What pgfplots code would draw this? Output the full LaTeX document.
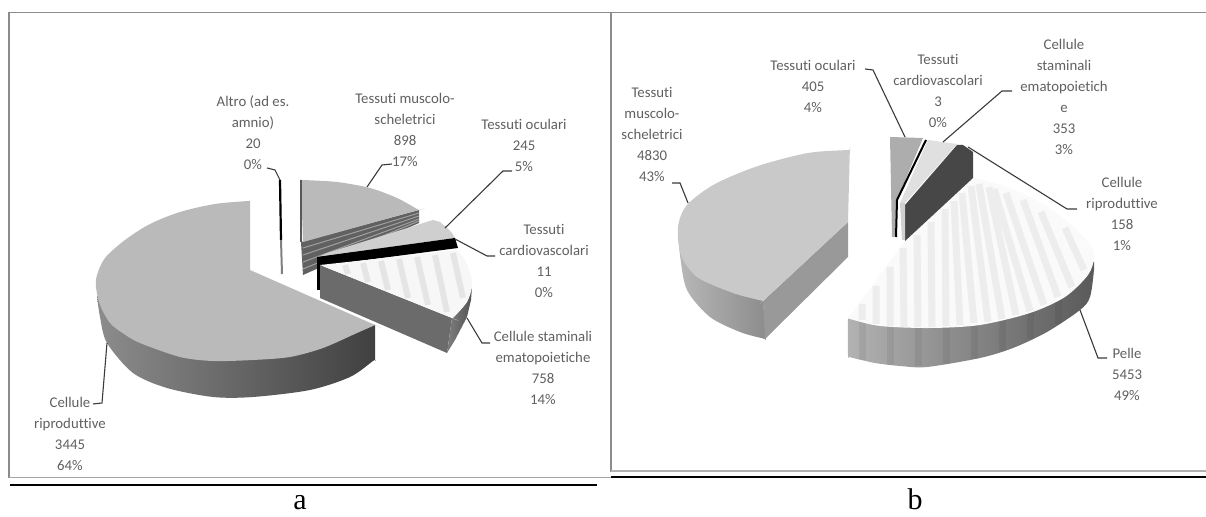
\documentclass[border=0pt]{standalone}
\usepackage{fontspec}
\setmainfont{Carlito}[Ligatures=NoCommon]
\newfontfamily\capfont{Liberation Serif}
\usepackage{pgfplots}
\pgfplotsset{compat=1.18}

\definecolor{txt}{HTML}{606060}
\definecolor{leader}{HTML}{3A3A3A}
\definecolor{framecol}{HTML}{8C8C8C}

\tikzset{
  lbl/.style={font=\fontsize{7.4}{10.5}\selectfont, text=txt, align=center, inner sep=0pt},
  ldr/.style={draw=leader, line width=0.55pt},
}

\begin{document}
\begin{tikzpicture}
\useasboundingbox (0,0) rectangle (603pt,258.5pt);
\begin{axis}[
    at={(0,0)}, anchor=south west,
    scale only axis, width=603pt, height=258.5pt,
    xmin=0, xmax=1206, ymin=0, ymax=517, y dir=reverse,
    hide axis, clip=false, unbounded coords=jump,
]
% frames and rules
\addplot[draw=framecol, line width=0.7pt] coordinates {(9,478) (9,12.5) (1206,12.5)};
\addplot[draw=framecol, line width=0.7pt] coordinates {(611,12.5) (611,472)};
\addplot[draw=gray!70, line width=0.9pt] coordinates {(9,477.5) (611,477.5)};
\addplot[draw=gray!60, line width=0.9pt] coordinates {(611,471) (1206,471)};
\addplot[draw=black, line width=1.1pt] coordinates {(10,485) (597,485)};
\addplot[draw=black, line width=1.1pt] coordinates {(611,477) (1206,477)};

% ---- chart a ----
% Altro
\addplot[draw=black, line width=1.1pt] coordinates {(280,180) (281,240)};
\addplot[draw=gray, line width=1pt] coordinates {(281,240) (282,274)};

% Tessuti muscolo-scheletrici
\addplot[fill=black!62, draw=none] coordinates {(301,242) (419,210) (419,223) (303,275)};
\addplot[draw=gray!75, line width=0.5pt] coordinates {(303,248) (419,213) (nan,nan) (303,255) (419,216) (nan,nan) (303,262) (419,219) (nan,nan) (303,269) (419,221)};
\addplot[smooth, fill=black!27, draw=none] coordinates {(303,242) (301,182) (301,180) (303,180) (337,182) (370,188) (397,198) (417,209) (419,210) (417,210.5) (303,242)};
\addplot[draw=black!65, line width=0.6pt] coordinates {(301,180) (301,242)};

% Cellule riproduttive
\addplot[smooth, left color=black!45, middle color=black!50, right color=black!75, draw=none] coordinates {(97,296) (100,317) (107,343) (133,373) (167,388) (213,397) (253,397) (310,390) (350,377) (373,361) (375,360) (375,358) (375,325)};
\addplot[smooth, fill=black!27, draw=none] coordinates {(250,270) (250,203) (250,201) (248,201) (215,204) (180,212) (150,224) (125,240) (105,258) (97,275) (96,287) (100,305) (110,323) (124,334) (140,343) (180,357) (213,361) (253,360) (290,357) (323,348) (357,333) (373,326) (375,325) (373,324.1) (250,270)};

% Tessuti oculari
\addplot[fill=black!19, draw=none] coordinates {(318,257) (327,253) (433,220) (440,222) (447,228) (452,233) (455,238)};

% Tessuti cardiovascolari
\addplot[fill=black, draw=none] coordinates {(317,257) (455,238) (458,248) (320,266) (320,290) (317,290)};

% Cellule staminali ematopoietiche
\addplot[fill=black!58, draw=none] coordinates {(320,265) (452,318) (447,353) (320,298)};
\addplot[left color=black!50, right color=black!68, draw=none] coordinates {(452,318) (467,302) (472,287) (471,300) (467,317) (455,340) (447,353)};
\addplot[smooth, fill=black!3, draw=none] coordinates {(320,265) (455,250.3) (457,250) (458,251) (465,260) (471,275) (472,287) (467,302) (454,317) (452,318) (450,317.2) (320,265)};
\addplot[draw=black!10, line width=3pt] coordinates {(345,265) (348,274) (nan,nan) (363,263) (368,282) (nan,nan) (381,261) (388,290) (nan,nan) (399,259) (408,298) (nan,nan) (417,257) (428,305) (nan,nan) (435,255) (447,312) (nan,nan) (453,253) (463,298)};

% leaders a
\addplot[ldr] coordinates {(267,168) (275,170) (280,180)};
\addplot[ldr] coordinates {(392,164) (382,165) (367,187)};
\addplot[ldr] coordinates {(512,171) (503,171) (445,228)};
\addplot[ldr] coordinates {(455,239) (487,256) (495,256)};
\addplot[ldr] coordinates {(467,318) (482,343) (490,343)};
\addplot[ldr] coordinates {(107,343) (102,403) (93,404)};

% labels a
\node[lbl] at (253,133) {Altro (ad es.\\amnio)\\20\\0\%};
\node[lbl] at (405,130) {Tessuti muscolo-\\scheletrici\\898\\17\%};
\node[lbl] at (524,145) {Tessuti oculari\\245\\5\%};
\node[lbl] at (544,261) {Tessuti\\cardiovascolari\\11\\0\%};
\node[lbl] at (543,368) {Cellule staminali\\ematopoietiche\\758\\14\%};
\node[lbl] at (70,434) {Cellule\\riproduttive\\3445\\64\%};
\node[font=\capfont\fontsize{15}{15}\selectfont, anchor=base, inner sep=0pt] at (300,510) {a};

% ---- chart b ----
% Tessuti muscolo-scheletrici
\addplot[smooth, left color=black!28, right color=black!45, draw=none] coordinates {(678,227) (680,255) (687,290) (710,317) (740,332) (763,338.5) (765,339) (766,337) (763,301)};
\addplot[fill=black!40, draw=none] coordinates {(763,301) (848,222) (848,257) (765,339)};
\addplot[smooth, fill=black!21, draw=none] coordinates {(848,222) (849.8,152) (850,150) (848,150) (808,153) (758,166) (715,184) (687,205) (678,227) (681,255) (697,277) (733,293) (761,300.5) (763,301) (765,299.2) (848,222)};

% Pelle
\addplot[smooth, left color=black!30, middle color=black!45, right color=black!65, draw=none] coordinates {(848,318) (848,355) (849,357) (851,357.5) (875,363) (900,366) (927,367) (980,358) (1013,348) (1047,332) (1080,310) (1090,297) (1094,270) (1094,262)};
\addplot[draw=black, opacity=0.06, line width=3.5pt] coordinates {(862,321) (862,360) (nan,nan) (890,327) (890,365) (nan,nan) (918,328) (918,366) (nan,nan) (946,327) (946,364) (nan,nan) (974,324) (974,359) (nan,nan) (1002,320) (1002,351) (nan,nan) (1030,312) (1030,339) (nan,nan) (1058,299) (1058,324)};
\addplot[smooth, fill=black!2, draw=none] coordinates {(905,241) (971,180) (973,178) (975,178) (1010,188) (1045,205) (1075,228) (1090,245) (1094,258) (1088,275) (1065,297) (1030,313) (980,325) (930,328) (880,326) (850,319) (848,318) (849.5,316) (905,241)};
\addplot[draw=black!7, line width=3.5pt] coordinates {(862,304) (862,320) (nan,nan) (876,286) (876,324) (nan,nan) (890,267) (890,326) (nan,nan) (903,248) (904,327) (nan,nan) (917,235) (918,327) (nan,nan) (931,222) (932,327) (nan,nan) (945,209) (946,326) (nan,nan) (954,201) (960,325) (nan,nan) (962,193) (974,323) (nan,nan) (971,186) (988,322) (nan,nan) (979,184) (1002,319) (nan,nan) (989,187) (1016,315) (nan,nan) (994,189) (1030,311) (nan,nan) (1006,193) (1044,305) (nan,nan) (1023,200) (1058,297) (nan,nan) (1041,212) (1072,287) (nan,nan) (1065,228) (1084,270)};

% Cellule riproduttive
\addplot[fill=black!72, draw=none] coordinates {(957,145) (963,145) (973,152) (973,178) (905,241) (905,205)};

% Cellule staminali ematopoietiche
\addplot[fill=black!12, draw=none] coordinates {(928,140) (957,144) (905,203) (900,203)};
\addplot[fill=black!18, draw=none] coordinates {(900,203) (905,203) (905,240) (902,240)};

% Tessuti oculari
\addplot[fill=black!32, draw=none] coordinates {(890,137) (923,138) (897,200) (896,237) (892,237)};

% Tessuti cardiovascolari
\addplot[draw=black, line width=1pt] coordinates {(926,140) (897,200) (896,237)};

% leaders b
\addplot[ldr] coordinates {(672,183) (680,183) (688,203)};
\addplot[ldr] coordinates {(865,69) (873,70) (905,137)};
\addplot[ldr] coordinates {(1012,91) (1002,91) (943,142)};
\addplot[ldr] coordinates {(968,147) (1067,209) (1077,209)};
\addplot[ldr] coordinates {(1080,310) (1098,358) (1107,358)};

% labels b
\node[lbl] at (652,134) {Tessuti\\muscolo-\\scheletrici\\4830\\43\%};
\node[lbl] at (813,86) {Tessuti oculari\\405\\4\%};
\node[lbl] at (938,91) {Tessuti\\cardiovascolari\\3\\0\%};
\node[lbl] at (1064,97) {Cellule\\staminali\\ematopoietich\\e\\353\\3\%};
\node[lbl] at (1122,214) {Cellule\\riproduttive\\158\\1\%};
\node[lbl] at (1127,374) {Pelle\\5453\\49\%};
\node[font=\capfont\fontsize{15}{15}\selectfont, anchor=base, inner sep=0pt] at (915,510) {b};
\end{axis}
\end{tikzpicture}
\end{document}
